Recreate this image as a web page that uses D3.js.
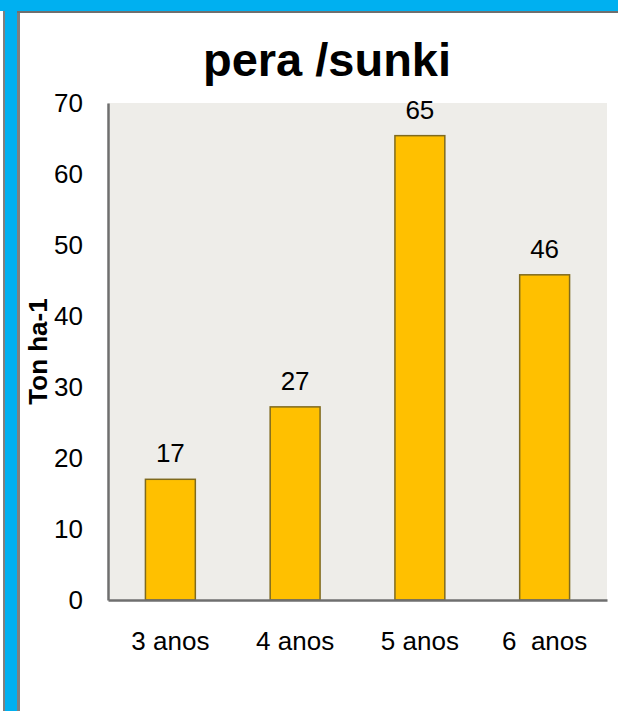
<html>
<head>
<meta charset="utf-8">
<title>pera /sunki</title>
<style>
  body { margin: 0; background: #fff; }
  text { font-family: "Liberation Sans", Arial, sans-serif; fill: #000; }
</style>
<script src="https://d3js.org/d3.v7.min.js"></script>
</head>
<body>
<svg width="618" height="711"></svg>
<script>
var categories = ["3 anos", "4 anos", "5 anos", "6  anos"];
var values = [17, 27.2, 65.4, 45.8];
var yTicks = [0, 10, 20, 30, 40, 50, 60, 70];

var svg = d3.select("svg"),
    W = +svg.attr("width"),
    H = +svg.attr("height");

// slide frame
svg.append("rect").attr("width", W).attr("height", H).attr("fill", "#fff");
svg.append("rect").attr("x", 0).attr("y", 0).attr("width", W).attr("height", 11).attr("fill", "#00B0F0");
svg.append("rect").attr("x", 3).attr("y", 11).attr("width", 2).attr("height", H).attr("fill", "#7f7f7f");
svg.append("rect").attr("x", 5).attr("y", 11).attr("width", 12).attr("height", H).attr("fill", "#00B0F0");
svg.append("rect").attr("x", 17).attr("y", 11).attr("width", 3).attr("height", H).attr("fill", "#7f7f7f");
svg.append("rect").attr("x", 17).attr("y", 11).attr("width", W).attr("height", 2).attr("fill", "#6f6f6f");

var pLeft = 108, pRight = 607, pTop = 103, pBottom = 600;

var x = d3.scaleBand()
    .domain(categories)
    .range([pLeft, pRight])
    .paddingInner(0.6)
    .paddingOuter(0.3);
var y = d3.scaleLinear()
    .domain([0, 70])
    .range([pBottom, pTop]);

// plot area
svg.append("rect")
    .attr("x", pLeft).attr("y", pTop)
    .attr("width", pRight - pLeft).attr("height", pBottom - pTop)
    .attr("fill", "#EEEDE9");

// bars
svg.selectAll(".bar")
    .data(values)
    .enter().append("rect")
    .attr("class", "bar")
    .attr("x", (d, i) => x(categories[i]))
    .attr("y", d => y(d))
    .attr("width", x.bandwidth())
    .attr("height", d => y(0) - y(d))
    .attr("fill", "#FFC000")
    .attr("stroke", "#7F6A1E")
    .attr("stroke-width", 1.5);

// value labels
svg.selectAll(".val")
    .data(values)
    .enter().append("text")
    .attr("class", "val")
    .attr("x", (d, i) => x(categories[i]) + x.bandwidth() / 2)
    .attr("y", d => y(d) - 17)
    .attr("text-anchor", "middle")
    .style("font-size", "26px")
    .text(d => d3.format(".0f")(d));

// y axis
var ya = svg.append("g")
    .attr("transform", `translate(${pLeft},0)`)
    .call(d3.axisLeft(y).tickValues(yTicks).tickSize(0).tickPadding(25));
ya.select(".domain").attr("stroke", "#6f6f6f").attr("stroke-width", 2.5);
ya.selectAll("text").style("font-size", "26px").attr("font-family", null);

// x axis
var xa = svg.append("g")
    .attr("transform", `translate(0,${pBottom})`)
    .call(d3.axisBottom(x).tickSize(0));
xa.select(".domain").attr("stroke", "#6f6f6f").attr("stroke-width", 2.5);
xa.selectAll("text")
    .style("font-size", "26px")
    .style("white-space", "pre")
    .attr("font-family", null)
    .attr("y", 50)
    .attr("dy", null);

// title
svg.append("text")
    .attr("x", 327)
    .attr("y", 76)
    .attr("text-anchor", "middle")
    .style("font-size", "47px")
    .style("font-weight", "bold")
    .text("pera /sunki");

// y axis title
svg.append("text")
    .attr("transform", `translate(47,${(pTop + pBottom) / 2}) rotate(-90)`)
    .attr("text-anchor", "middle")
    .style("font-size", "26px")
    .style("font-weight", "bold")
    .text("Ton ha-1");
</script>
</body>
</html>
